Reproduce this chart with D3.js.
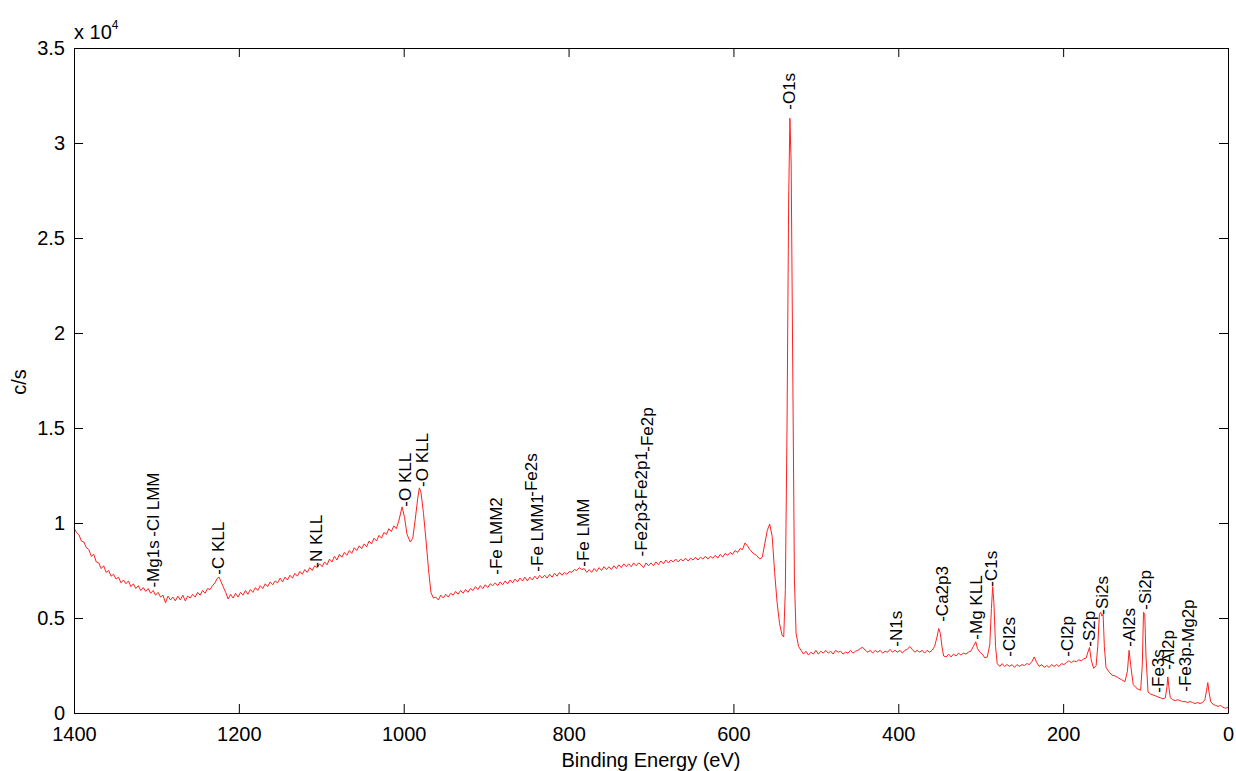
<!DOCTYPE html>
<html>
<head>
<meta charset="utf-8">
<script src="https://cdn.jsdelivr.net/npm/d3@7"></script>
<style>
  body { margin: 0; background: #fff; }
  text { font-family: "Liberation Sans", Arial, sans-serif; fill: #000; }
</style>
</head>
<body>
<svg width="1236" height="771"></svg>
<script>
// survey spectrum, [binding energy (eV), counts/s]
const spectrum = [
  [1400,9750],[1397,9500],[1394,9380],[1391,9050],[1388,9000],[1385,8700],[1382,8600],[1379,8250],
  [1376,8350],[1373,7950],[1370,7900],[1367,7600],[1364,7750],[1361,7400],[1358,7500],[1355,7200],
  [1352,7300],[1349,7050],[1346,7150],[1343,6850],[1340,7000],[1337,6800],[1334,6950],[1331,6650],
  [1328,6800],[1325,6550],[1322,6700],[1319,6450],[1316,6600],[1313,6400],[1310,6550],[1307,6300],
  [1304,6450],[1301,6200],[1298,6350],[1295,6100],[1292,6200],[1289,5800],[1286,6150],[1283,5950],
  [1280,6100],[1277,5900],[1274,6150],[1271,5950],[1268,6200],[1265,5900],[1262,6150],[1259,6050],
  [1256,6250],[1253,6100],[1250,6350],[1247,6200],[1244,6450],[1241,6300],[1238,6550],[1235,6500],
  [1232,6700],[1229,6850],[1226,7100],[1224,7150],[1222,6950],[1219,6650],[1216,6350],[1213,6000],
  [1210,6250],[1207,6050],[1204,6300],[1201,6100],[1198,6350],[1195,6200],[1192,6450],[1189,6250],
  [1186,6500],[1183,6350],[1180,6600],[1177,6450],[1174,6700],[1171,6550],[1168,6800],[1165,6650],
  [1162,6900],[1159,6750],[1156,6950],[1153,6850],[1150,7100],[1147,6900],[1144,7150],[1141,7000],
  [1138,7250],[1135,7100],[1132,7350],[1129,7200],[1126,7450],[1123,7300],[1120,7550],[1117,7400],
  [1114,7650],[1111,7500],[1108,7750],[1105,7650],[1102,7850],[1099,7700],[1096,7950],[1093,7800],
  [1090,8100],[1087,7950],[1084,8250],[1081,8050],[1078,8350],[1075,8200],[1072,8450],[1069,8300],
  [1066,8550],[1063,8400],[1060,8700],[1057,8550],[1054,8800],[1051,8650],[1048,8900],[1045,8750],
  [1042,9050],[1039,8900],[1036,9200],[1033,9050],[1030,9350],[1027,9200],[1024,9500],[1021,9400],
  [1018,9700],[1015,9550],[1012,9850],[1009,9700],[1006,10100],[1002,10850],[999,10300],[996,9400],
  [992,9000],[989,9200],[986,10200],[983,11300],[981,11850],[979,11600],[976,10500],[973,9100],
  [970,7600],[967,6350],[964,6050],[961,6100],[958,5950],[955,6200],[952,6050],[949,6250],
  [946,6100],[943,6300],[940,6200],[937,6400],[934,6250],[931,6450],[928,6300],[925,6500],
  [922,6350],[919,6550],[916,6450],[913,6650],[910,6500],[907,6700],[904,6550],[901,6750],
  [898,6600],[895,6800],[892,6700],[889,6850],[886,6700],[883,6900],[880,6750],[877,6950],
  [874,6800],[871,7000],[868,6850],[865,7050],[862,6900],[859,7100],[856,6950],[853,7150],
  [850,6950],[847,7150],[844,7000],[841,7200],[838,7050],[835,7250],[832,7100],[829,7250],
  [826,7100],[823,7300],[820,7150],[817,7350],[814,7200],[811,7400],[808,7250],[805,7400],
  [802,7300],[799,7450],[796,7400],[793,7550],[790,7500],[787,7650],[784,7550],[781,7600],
  [778,7400],[775,7550],[772,7400],[769,7600],[766,7450],[763,7650],[760,7500],[757,7700],
  [754,7550],[751,7700],[748,7550],[745,7750],[742,7600],[739,7800],[736,7650],[733,7850],
  [730,7700],[727,7850],[724,7700],[721,7900],[718,7750],[715,7900],[712,7800],[709,7650],
  [706,7900],[703,7750],[700,7900],[697,7750],[694,7950],[691,7800],[688,8000],[685,7850],
  [682,8050],[679,7900],[676,8050],[673,7950],[670,8100],[667,7950],[664,8100],[661,8000],
  [658,8150],[655,8000],[652,8150],[649,8050],[646,8200],[643,8050],[640,8200],[637,8100],
  [634,8250],[631,8100],[628,8250],[625,8150],[622,8300],[619,8150],[616,8350],[613,8200],
  [610,8400],[607,8300],[604,8450],[601,8350],[598,8550],[595,8450],[592,8650],[589,8600],
  [586,8950],[583,8800],[580,8600],[576,8400],[572,8300],[568,8100],[565,8200],[562,8900],
  [559,9600],[556,9950],[553,9300],[550,7400],[547,5800],[544,4700],[541,4100],[539,4000],
  [537,6500],[535,15000],[533,27000],[531.5,31300],[530,29000],[528,18000],[526,7000],[524,4200],
  [521,3500],[518,3300],[515,3100],[512,3250],[509,3050],[506,3200],[503,3100],[500,3300],
  [497,3100],[494,3250],[491,3150],[488,3300],[485,3150],[482,3250],[479,3100],[476,3300],
  [473,3200],[470,3250],[467,3100],[464,3200],[461,3150],[458,3300],[455,3150],[452,3250],
  [449,3300],[446,3400],[443,3450],[440,3300],[437,3200],[434,3300],[431,3150],[428,3300],
  [425,3200],[422,3300],[419,3150],[416,3250],[413,3200],[410,3350],[407,3200],[404,3300],
  [401,3200],[398,3300],[395,3150],[392,3300],[389,3350],[386,3500],[383,3350],[380,3200],
  [377,3300],[374,3200],[371,3300],[368,3150],[365,3300],[362,3200],[359,3300],[356,3500],
  [353,4000],[351,4450],[349,4200],[347,3500],[345,3000],[342,2950],[339,3100],[336,2950],
  [333,3100],[330,3000],[327,3150],[324,3050],[321,3150],[318,3100],[315,3200],[312,3250],
  [309,3500],[306,3750],[304,3400],[301,3200],[298,3100],[295,2900],[292,2950],[289,3600],
  [287,5500],[285.5,6650],[284,5800],[282,3500],[280,2600],[277,2450],[274,2600],[271,2450],
  [268,2550],[265,2450],[262,2550],[259,2400],[256,2550],[253,2450],[250,2550],[247,2500],
  [244,2600],[241,2550],[238,2700],[235,2950],[232,2650],[229,2450],[226,2550],[223,2400],
  [220,2500],[217,2400],[214,2550],[211,2450],[208,2550],[205,2450],[202,2600],[199,2550],
  [196,2650],[193,2750],[190,2650],[187,2750],[184,2700],[181,2800],[178,2750],[175,2850],
  [172,2900],[170,3200],[168,3450],[166,2800],[163,2350],[160,2500],[158,3500],[156,5200],
  [154.5,5300],[153,5100],[151.5,5200],[150,3500],[148,2400],[145,2200],[141,2000],[137,1950],
  [133,1850],[129,1750],[125,1650],[122,2200],[120,3300],[118,2500],[115,1500],[112,1350],
  [109,1250],[106,1200],[104,2500],[102.5,5300],[101,5200],[99.5,3000],[97,1100],[94,1000],
  [91,950],[88,900],[85,850],[82,800],[79,750],[76,800],[74,1400],[73,1900],
  [71.5,1300],[70,800],[67,700],[64,650],[61,700],[58,650],[55,600],[52,600],
  [49,550],[46,600],[43,550],[40,500],[37,550],[34,500],[31,550],[28,700],
  [26,1200],[24.5,1600],[23,1100],[21,600],[18,450],[15,400],[12,350],[9,400],
  [6,300],[3,250],[0,300]
];

// peak annotations: name, energy, counts where the label starts
const peakNames = ["-Mg1s", "-Cl LMM", "-C KLL", "-N KLL", "-O KLL", "-O KLL", "-Fe LMM2", "-Fe LMM1",
  "-Fe2s", "-Fe LMM", "-Fe2p3", "-Fe2p1", "-Fe2p", "-O1s", "-N1s", "-Ca2p3", "-Mg KLL", "-C1s",
  "-Cl2s", "-Cl2p", "-S2p", "-Si2s", "-Al2s", "-Si2p", "-Fe3s", "-Al2p", "-Fe3p", "-Mg2p"];
const peakEnergy = [1304, 1304, 1225, 1106, 998, 977, 888, 838,
  845, 782, 712, 712, 704, 532, 402, 346, 305, 287,
  265, 195, 168, 152, 119, 100, 84, 72, 51, 48];
const peakLabelY = [6600, 9280, 7280, 7650, 10860, 11900, 7280, 7440,
  11380, 7700, 8240, 10950, 13750, 31750, 3490, 4800, 3860, 6650,
  2960, 2960, 3490, 5170, 3490, 5440, 1070, 2280, 1120, 3440];

const xTicks = [1400, 1200, 1000, 800, 600, 400, 200, 0];
const yTicks = [0, 5000, 10000, 15000, 20000, 25000, 30000, 35000];

const W = 1236, H = 771;
const svg = d3.select("svg");
svg.append("rect").attr("width", W).attr("height", H).attr("fill", "#fff");

const x = d3.scaleLinear().domain([1400, 0]).range([74, 1228]);
const y = d3.scaleLinear().domain([0, 35000]).range([713, 48]);

// data line
const line = d3.line().x(d => x(d[0])).y(d => y(d[1]));
svg.append("path")
  .datum(spectrum)
  .attr("d", line)
  .attr("fill", "none")
  .attr("stroke", "#ff2020")
  .attr("stroke-width", 1);

// axes (matlab style box, ticks inside)
const fmtY = d => d / 1e4;
svg.append("g").attr("transform", "translate(0,713)")
  .call(d3.axisBottom(x).tickValues(xTicks).tickSizeInner(-9).tickSizeOuter(0).tickPadding(14).tickFormat(d3.format("d")))
  .call(g => g.selectAll("text").attr("font-size", 20));
svg.append("g").attr("transform", "translate(0,48)")
  .call(d3.axisTop(x).tickValues(xTicks).tickSizeInner(-9).tickSizeOuter(0).tickFormat(""));
svg.append("g").attr("transform", "translate(74,0)")
  .call(d3.axisLeft(y).tickValues(yTicks).tickSizeInner(-9).tickSizeOuter(0).tickPadding(9).tickFormat(fmtY))
  .call(g => g.selectAll("text").attr("font-size", 20));
svg.append("g").attr("transform", "translate(1228,0)")
  .call(d3.axisRight(y).tickValues(yTicks).tickSizeInner(-9).tickSizeOuter(0).tickFormat(""));
svg.selectAll(".domain").attr("stroke", "#000");
svg.selectAll(".tick line").attr("stroke", "#000");
svg.selectAll(".tick text").attr("font-family", "Liberation Sans, Arial, sans-serif").attr("fill", "#000");

// exponent
const ex = svg.append("text").attr("x", 74).attr("y", 39).attr("font-size", 20);
ex.append("tspan").text("x 10");
ex.append("tspan").attr("dy", -10).attr("font-size", 12).text("4");

// axis titles
svg.append("text")
  .attr("x", (74 + 1228) / 2).attr("y", 767)
  .attr("text-anchor", "middle").attr("font-size", 20)
  .text("Binding Energy (eV)");
svg.append("text")
  .attr("transform", "translate(26,382) rotate(-90)")
  .attr("text-anchor", "middle").attr("font-size", 20)
  .text("c/s");

// peak labels
svg.append("g").selectAll("text")
  .data(peakNames)
  .join("text")
  .attr("transform", (d, i) => `translate(${x(peakEnergy[i])},${y(peakLabelY[i])}) rotate(-90)`)
  .attr("dominant-baseline", "central")
  .attr("font-size", 17)
  .text(d => d);
</script>
</body>
</html>
